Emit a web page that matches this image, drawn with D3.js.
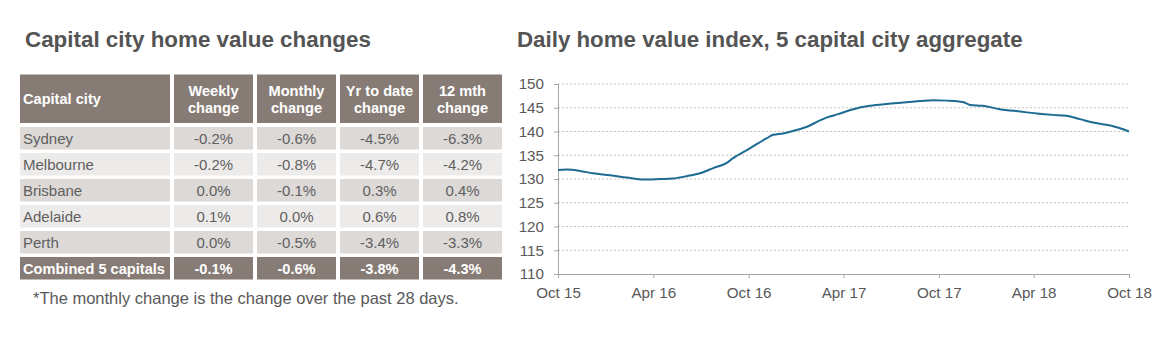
<!DOCTYPE html>
<html><head><meta charset="utf-8">
<script src="https://cdn.jsdelivr.net/npm/d3@7"></script>
<style>body{margin:0;background:#fff}svg{display:block;font-family:"Liberation Sans",Arial,sans-serif}</style>
</head><body><svg id="c" width="1160" height="344"></svg>
<script>
// ---- Table data ----
const cities = ["Sydney","Melbourne","Brisbane","Adelaide","Perth","Combined 5 capitals"];
const weekly = [-0.2,-0.2,0.0,0.1,0.0,-0.1];
const monthly = [-0.6,-0.8,-0.1,0.0,-0.5,-0.6];
const ytd = [-4.5,-4.7,0.3,0.6,-3.4,-3.8];
const twelveMonth = [-6.3,-4.2,0.4,0.8,-3.3,-4.3];
const headers = [["Capital city"],["Weekly","change"],["Monthly","change"],["Yr to date","change"],["12 mth","change"]];

// ---- Index data ----
const dates = ["2015-10-01","2015-10-18","2015-11-12","2015-12-07","2016-01-09","2016-02-10","2016-03-12","2016-04-14","2016-05-09","2016-06-04","2016-06-30","2016-07-25","2016-08-20","2016-09-01","2016-10-04","2016-11-05","2016-11-17","2016-12-06","2016-12-25","2017-01-21","2017-02-16","2017-03-07","2017-03-20","2017-04-20","2017-05-22","2017-06-23","2017-07-25","2017-08-26","2017-09-20","2017-10-16","2017-11-16","2017-11-30","2017-12-25","2018-01-26","2018-03-06","2018-04-07","2018-05-08","2018-06-03","2018-06-29","2018-07-24","2018-08-19","2018-09-14","2018-10-01"];
const indexValues = [131.9,132.0,131.7,131.2,130.8,130.3,129.9,130.0,130.1,130.6,131.2,132.3,133.4,134.4,136.5,138.6,139.3,139.6,140.1,141.0,142.4,143.2,143.6,144.7,145.4,145.8,146.1,146.4,146.6,146.5,146.2,145.6,145.4,144.7,144.2,143.8,143.5,143.3,142.6,141.9,141.4,140.7,140.0];
const xTickDates = ["2015-10-01","2016-04-01","2016-10-01","2017-04-01","2017-10-01","2018-04-01","2018-10-01"];
const xTickLabels = ["Oct 15","Apr 16","Oct 16","Apr 17","Oct 17","Apr 18","Oct 18"];
const yTicks = [110,115,120,125,130,135,140,145,150];

const svg = d3.select("#c");
const titleColor = "#545454", textColor = "#5f5f5f", headBg = "#877c75";

// ---- Left: table ----
svg.append("text").attr("x",25).attr("y",47).attr("font-size",22.4).attr("font-weight","bold")
  .attr("fill",titleColor).text("Capital city home value changes");

const colX = [20,174,257,340,423], colW = [150,79,79,79,79];
const headTop = 74.5, headH = 48.5, rowTop = 127, rowStep = 26, rowH = 22.5;
const rowBg = ["#dcd9d7","#edebea","#dcd9d7","#edebea","#dcd9d7",headBg];
const fmt = v => v.toFixed(1) + "%";
const cols = [weekly, monthly, ytd, twelveMonth];

const hg = svg.append("g");
headers.forEach((h,i)=>{
  hg.append("rect").attr("x",colX[i]).attr("y",headTop).attr("width",colW[i]).attr("height",headH).attr("fill",headBg);
  const t = hg.append("text").attr("fill","#fff").attr("font-weight","bold").attr("font-size",14.6);
  if (h.length===1) {
    t.attr("x",colX[i]+3).attr("y",headTop+headH/2+5).text(h[0]);
  } else {
    t.attr("text-anchor","middle");
    h.forEach((line,j)=>t.append("tspan").attr("x",colX[i]+colW[i]/2).attr("y",headTop+21+j*17.5).text(line));
  }
});

const rows = svg.append("g").selectAll("g").data(cities).join("g")
  .attr("transform",(d,i)=>`translate(0,${rowTop+i*rowStep})`);
rows.each(function(city,i){
  const g = d3.select(this);
  const last = i===cities.length-1;
  const fs = last ? 14.6 : 15;
  colX.forEach((x,c)=>{
    g.append("rect").attr("x",x).attr("y",0).attr("width",colW[c]).attr("height",rowH).attr("fill",rowBg[i]);
  });
  g.append("text").attr("x",colX[0]+3).attr("y",16.5).attr("font-size",fs)
    .attr("font-weight",last?"bold":"normal").attr("fill",last?"#fff":textColor).text(city);
  cols.forEach((arr,c)=>{
    g.append("text").attr("x",colX[c+1]+colW[c+1]/2).attr("y",16.5).attr("text-anchor","middle")
      .attr("font-size",fs).attr("font-weight",last?"bold":"normal").attr("fill",last?"#fff":textColor)
      .text(fmt(arr[i]));
  });
});

svg.append("text").attr("x",33).attr("y",304).attr("font-size",16.5).attr("fill","#595959")
  .text("*The monthly change is the change over the past 28 days.");

// ---- Right: line chart ----
svg.append("text").attr("x",517).attr("y",47).attr("font-size",22.3).attr("font-weight","bold")
  .attr("fill",titleColor).text("Daily home value index, 5 capital city aggregate");

const parse = d3.timeParse("%Y-%m-%d");
const x = d3.scaleTime().domain([parse("2015-10-01"),parse("2018-10-01")]).range([558,1129]);
const y = d3.scaleLinear().domain([110,150]).range([274,84]);

// gridlines
svg.append("g").selectAll("line").data(yTicks.filter(v=>v>110)).join("line")
  .attr("x1",558).attr("x2",1129).attr("y1",d=>y(d)).attr("y2",d=>y(d))
  .attr("stroke","#c4c4c4").attr("stroke-width",1).attr("stroke-dasharray","2,2");

const yAxis = svg.append("g").attr("transform","translate(558,0)")
  .call(d3.axisLeft(y).tickValues(yTicks).tickSize(4).tickPadding(10).tickFormat(d3.format("d")));
const xAxis = svg.append("g").attr("transform","translate(0,274)")
  .call(d3.axisBottom(x).tickValues(xTickDates.map(parse)).tickSize(4).tickPadding(9)
    .tickFormat((d,i)=>xTickLabels[i]));
[yAxis,xAxis].forEach(a=>{
  a.select(".domain").attr("stroke","#a6a6a6");
  a.selectAll(".tick line").attr("stroke","#a6a6a6");
  a.selectAll(".tick text").attr("fill","#595959").attr("font-size",15.2)
   .attr("font-family","'Liberation Sans',Arial,sans-serif");
});

const data = dates.map((d,i)=>({d:parse(d),v:indexValues[i]}));
svg.append("path").datum(data)
  .attr("fill","none").attr("stroke","#1d6b92").attr("stroke-width",2)
  .attr("d",d3.line().x(p=>x(p.d)).y(p=>y(p.v)).curve(d3.curveMonotoneX));
</script></body></html>
